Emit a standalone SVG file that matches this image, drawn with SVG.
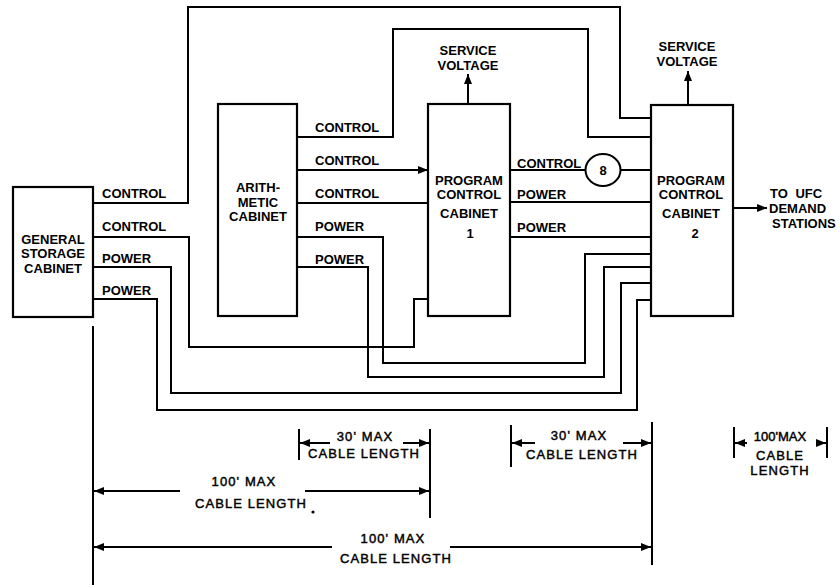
<svg xmlns="http://www.w3.org/2000/svg" width="840" height="585" viewBox="0 0 840 585">
<defs>
<marker id="ah" markerUnits="userSpaceOnUse" markerWidth="12" markerHeight="10" refX="10" refY="5" orient="auto-start-reverse">
<path d="M0,1 L10,5 L0,9 Z" fill="#000"/>
</marker>
<style>
rect.box{fill:#fff;stroke:#000;stroke-width:2.2}
.w{fill:none;stroke:#000;stroke-width:2}
.d{fill:none;stroke:#000;stroke-width:2}
text{font-family:"Liberation Sans",Arial,sans-serif;fill:#000}
.lb{font-size:13px;font-weight:bold}
.bx{font-size:13px;font-weight:bold;text-anchor:middle}
.dm{font-size:13px;text-anchor:middle;letter-spacing:1.1px;stroke:#000;stroke-width:0.45}
</style>
</defs>
<rect width="840" height="585" fill="#fff"/>

<g id="connectors">
<path class="w" d="M93,203 H188 V7 H620 V118 H651"/>
<path class="w" d="M297,137 H393 V29 H588 V137 H651"/>
<path class="w" d="M297,170 H428" marker-end="url(#ah)"/>
<path class="w" d="M297,203 H428"/>
<path class="w" d="M93,237 H189 V347 H414 V299 H428"/>
<path class="w" d="M297,237 H383 V363 H585 V254 H651"/>
<path class="w" d="M297,267 H368 V377 H604 V267 H651"/>
<path class="w" d="M93,267 H171 V393 H621 V283 H651"/>
<path class="w" d="M93,299 H157 V410 H637 V300 H651"/>
<path class="w" d="M510,170 H585.5 M620.5,170 H651"/>
<path class="w" d="M510,202 H651"/>
<path class="w" d="M510,237 H651"/>
<path class="w" d="M468,104 V74" marker-end="url(#ah)"/>
<path class="w" d="M688,105 V71" marker-end="url(#ah)"/>
<path class="w" d="M733,208 H767" marker-end="url(#ah)"/>
</g>

<g id="general-storage">
<rect class="box" x="13" y="187" width="80" height="130"/>
<text class="bx" x="53" y="244">GENERAL</text>
<text class="bx" x="53" y="258">STORAGE</text>
<text class="bx" x="53" y="273">CABINET</text>
</g>
<g id="arithmetic">
<rect class="box" x="218" y="104" width="79" height="212"/>
<text class="bx" x="258" y="192">ARITH-</text>
<text class="bx" x="258" y="207">METIC</text>
<text class="bx" x="258" y="221">CABINET</text>
</g>
<g id="pc1">
<rect class="box" x="428" y="104" width="82" height="212"/>
<text class="bx" x="469" y="184.5">PROGRAM</text>
<text class="bx" x="469" y="198.5">CONTROL</text>
<text class="bx" x="469" y="217.5">CABINET</text>
<text class="bx" x="470" y="237.5">1</text>
</g>
<g id="pc2">
<rect class="box" x="651" y="105" width="82" height="211"/>
<text class="bx" x="691" y="184.5">PROGRAM</text>
<text class="bx" x="691" y="198.5">CONTROL</text>
<text class="bx" x="691" y="217.5">CABINET</text>
<text class="bx" x="695" y="237.5">2</text>
</g>
<g id="node-8">
<ellipse cx="603" cy="170" rx="17.5" ry="16" fill="#fff" stroke="#000" stroke-width="2"/>
<text class="bx" x="603" y="175">8</text>
</g>
<g id="sv1">
<text class="bx" x="468" y="54.5">SERVICE</text>
<text class="bx" x="468" y="69.5">VOLTAGE</text>
</g>
<g id="sv2">
<text class="bx" x="687" y="50.5">SERVICE</text>
<text class="bx" x="687" y="65.5">VOLTAGE</text>
</g>
<g id="ufc">
<text class="lb" x="770" y="197.5" style="word-spacing:4px">TO UFC</text>
<text class="lb" x="769" y="213">DEMAND</text>
<text class="lb" x="772" y="227.5">STATIONS</text>
</g>

<g id="labels">
<text class="lb" x="102" y="197.5">CONTROL</text>
<text class="lb" x="102" y="230.5">CONTROL</text>
<text class="lb" x="102" y="262.5">POWER</text>
<text class="lb" x="102" y="294.5">POWER</text>
<text class="lb" x="315" y="131.5">CONTROL</text>
<text class="lb" x="315" y="164.5">CONTROL</text>
<text class="lb" x="315" y="197.5">CONTROL</text>
<text class="lb" x="315" y="231">POWER</text>
<text class="lb" x="315" y="263.5">POWER</text>
<text class="lb" x="517" y="167.5">CONTROL</text>
<text class="lb" x="517" y="198.5">POWER</text>
<text class="lb" x="517" y="231.5">POWER</text>
</g>

<g id="dimensions">
<path class="d" d="M93,326 V585"/>
<path class="d" d="M299,429 V460 M430,429 V518"/>
<path class="d" d="M330,443 H300" marker-end="url(#ah)"/>
<path class="d" d="M403,443 H429" marker-end="url(#ah)"/>
<text class="dm" x="365" y="440.5">30' MAX</text>
<text class="dm" x="364" y="457.5">CABLE LENGTH</text>

<path class="d" d="M180,491 H94" marker-end="url(#ah)"/>
<path class="d" d="M305,491 H429" marker-end="url(#ah)"/>
<text class="dm" x="244" y="486">100' MAX</text>
<text class="dm" x="251" y="507.5">CABLE LENGTH</text>
<circle cx="313" cy="512" r="1.6" fill="#000"/>

<path class="d" d="M332,547 H94" marker-end="url(#ah)"/>
<path class="d" d="M450,547 H651" marker-end="url(#ah)"/>
<text class="dm" x="393" y="542.5">100' MAX</text>
<text class="dm" x="396" y="562.5">CABLE LENGTH</text>

<path class="d" d="M511,425 V467 M652,422 V565"/>
<path class="d" d="M535,443 H512" marker-end="url(#ah)"/>
<path class="d" d="M623,443 H651" marker-end="url(#ah)"/>
<text class="dm" x="579" y="439.5">30' MAX</text>
<text class="dm" x="582" y="458.5">CABLE LENGTH</text>

<path class="d" d="M734,427 V458 M827,427 V458"/>
<path class="d" d="M747,443 H735" marker-end="url(#ah)"/>
<path class="d" d="M816,443 H826" marker-end="url(#ah)"/>
<text class="dm" x="780" y="441" style="letter-spacing:0">100'MAX</text>
<text class="dm" x="780" y="459.5">CABLE</text>
<text class="dm" x="780" y="475">LENGTH</text>
</g>
</svg>
